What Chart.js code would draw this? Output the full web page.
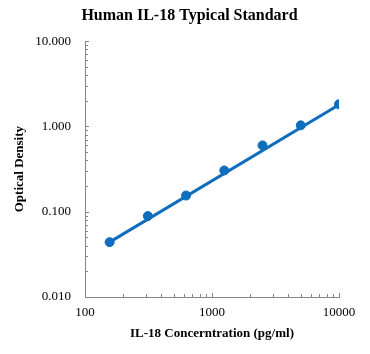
<!DOCTYPE html>
<html>
<head>
<meta charset="utf-8">
<script src="https://cdn.jsdelivr.net/npm/chart.js@4"></script>
<style>
  body { margin: 0; background: #fff; }
  #wrap { width: 370px; height: 354px; }
</style>
</head>
<body>
<div id="wrap"><canvas id="myChart" width="370" height="354"></canvas></div>
<script>
// standard concentrations (pg/ml) and measured OD
const concentrations = [156.25, 312.5, 625, 1250, 2500, 5000, 10000];
const odValues = [0.044, 0.089, 0.155, 0.305, 0.60, 1.03, 1.82];
// trend line (ends)
const fitX = [156.25, 10000];
const fitY = [0.044, 1.80];
const xTicks = [100, 1000, 10000];
const yTicks = [0.01, 0.1, 1, 10];

const blue = '#0F6DBE';
const axisGrey = '#878787';
const serif = "'Liberation Serif', 'Times New Roman', serif";

// small inward ticks like the excel original
const minorTicks = {
    id: 'minorTicks',
    afterLayout(chart) {
        // title sits a bit right of canvas centre in the original
        const t = chart.titleBlock;
        if (t) { t.left = 40; t.width = t.right - t.left; }
    },
    afterDraw(chart) {
        const c = chart.ctx;
        const xs = chart.scales.x, ys = chart.scales.y;
        const area = chart.chartArea;
        c.save();
        c.strokeStyle = axisGrey;
        c.lineWidth = 1;
        c.beginPath();
        for (let d = 100; d < 10000; d *= 10) {
            for (let m = 1; m <= 10; m++) {
                const px = Math.round(xs.getPixelForValue(d * m)) + 0.5;
                const len = (m === 1 || m === 10) ? 4 : 3;
                c.moveTo(px, area.bottom);
                c.lineTo(px, area.bottom - len);
            }
        }
        for (let d = 0.01; d < 9; d *= 10) {
            for (let m = 1; m <= 10; m++) {
                const py = Math.round(ys.getPixelForValue(d * m)) + 0.5;
                const len = (m === 1 || m === 10) ? 4 : 3;
                c.moveTo(area.left, py);
                c.lineTo(area.left + len, py);
            }
        }
        c.stroke();
        c.restore();
    }
};

const ctx = document.getElementById('myChart').getContext('2d');
const chart = new Chart(ctx, {
    type: 'scatter',
    data: {
        datasets: [
            {
                label: 'fit',
                type: 'line',
                data: fitX.map((x, i) => ({ x: x, y: fitY[i] })),
                borderColor: blue,
                borderWidth: 3,
                pointRadius: 0,
                fill: false,
                order: 2
            },
            {
                label: 'OD',
                data: concentrations.map((x, i) => ({ x: x, y: odValues[i] })),
                backgroundColor: blue,
                borderColor: blue,
                pointRadius: 4.5,
                order: 1
            }
        ]
    },
    options: {
        responsive: false,
        animation: false,
        layout: { padding: { left: 0, right: 31, top: 0, bottom: 0 } },
        plugins: {
            legend: { display: false },
            tooltip: { enabled: false },
            title: {
                display: true,
                text: 'Human IL-18 Typical Standard',
                color: '#000',
                font: { family: serif, size: 16, weight: 'bold' },
                padding: { top: 6, bottom: 16 }
            }
        },
        scales: {
            x: {
                type: 'logarithmic',
                min: 100,
                max: 10000,
                afterBuildTicks: (s) => { s.ticks = xTicks.map(v => ({ value: v })); },
                afterFit: (s) => { s.height = 57; },
                grid: { display: false, drawTicks: false },
                border: { color: axisGrey, width: 1 },
                ticks: {
                    color: '#000',
                    font: { family: serif, size: 13 },
                    padding: 8,
                    maxRotation: 0,
                    callback: (v) => String(v)
                },
                title: {
                    display: true,
                    text: 'IL-18 Concerntration (pg/ml)',
                    color: '#000',
                    font: { family: serif, size: 13, weight: 'bold' },
                    padding: { top: 4, bottom: 13 }
                }
            },
            y: {
                type: 'logarithmic',
                min: 0.01,
                max: 10,
                afterBuildTicks: (s) => { s.ticks = yTicks.map(v => ({ value: v })); },
                afterFit: (s) => { s.width = 85; },
                grid: { display: false, drawTicks: false },
                border: { color: axisGrey, width: 1 },
                ticks: {
                    color: '#000',
                    font: { family: serif, size: 13 },
                    padding: 14,
                    callback: (v) => Number(v).toFixed(3)
                },
                title: {
                    display: true,
                    text: 'Optical Density',
                    color: '#000',
                    font: { family: serif, size: 13, weight: 'bold' },
                    padding: { top: 12, bottom: 0 }
                }
            }
        }
    },
    plugins: [minorTicks]
});
</script>
</body>
</html>
